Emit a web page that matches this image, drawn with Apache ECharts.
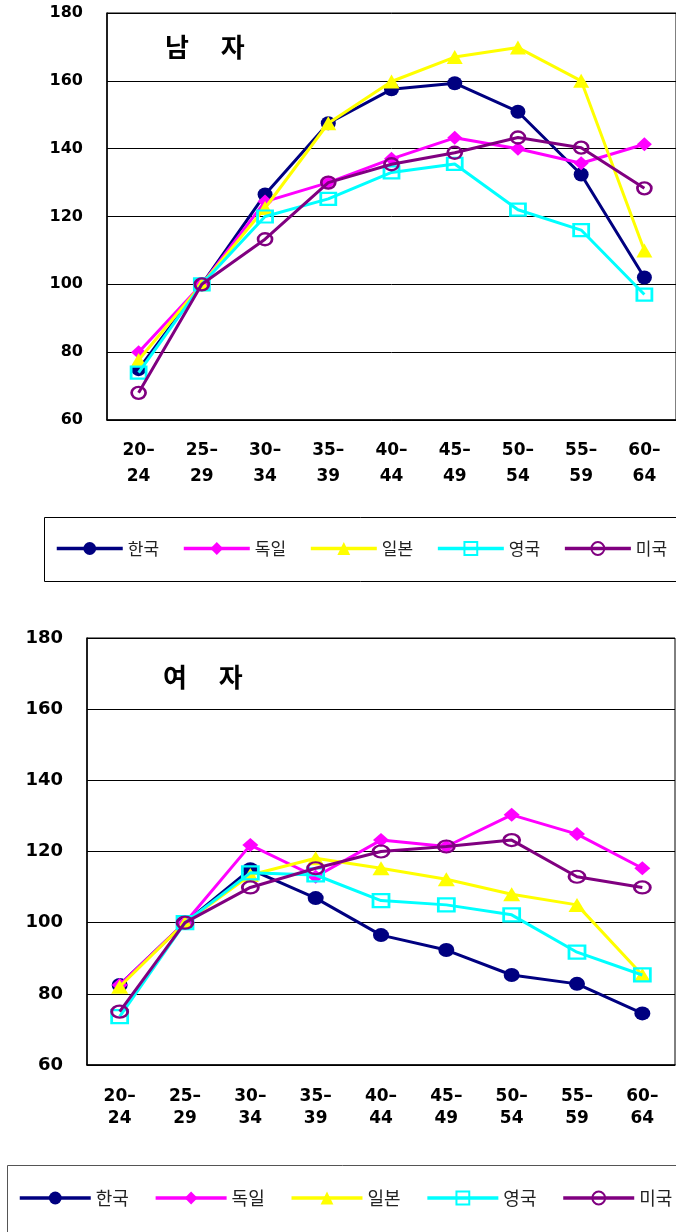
<!DOCTYPE html>
<html><head><meta charset="utf-8">
<script src="https://cdn.jsdelivr.net/npm/echarts@6/dist/echarts.min.js"></script>
<style>html,body{margin:0;padding:0;background:#fff}#c{width:676px;height:1232px}</style>
</head><body><div id="c"></div>
<script>
// ---- data ----
const categories = ['20–\n24','25–\n29','30–\n34','35–\n39','40–\n44','45–\n49','50–\n54','55–\n59','60–\n64'];
const countries = ['한국','독일','일본','영국','미국'];
const panelTitles = ['남　 자', '여　 자'];
const yMin = 60, yMax = 180, yStep = 20;

const maleKorea   = [75, 100, 126.5, 147.5, 157.5, 159.3, 150.9, 132.4, 102];
const maleGermany = [80, 100, 124.4, 130, 137, 143.2, 140, 135.7, 141.3];
const maleJapan   = [77.7, 100, 122.5, 147.5, 159.8, 167, 169.8, 160, 110];
const maleUK      = [74, 100, 120, 125.2, 133, 135.5, 122, 116, 97];
const maleUSA     = [68, 100, 113.3, 130, 135.4, 138.8, 143.3, 140.3, 128.3];

const femaleKorea   = [82.5, 100, 115, 106.9, 96.5, 92.3, 85.3, 82.8, 74.5];
const femaleGermany = [82.5, 100, 121.8, 112.9, 123.2, 121.4, 130.3, 124.9, 115.3];
const femaleJapan   = [82, 100, 113.4, 118.1, 115.3, 112.2, 108, 105, 85.3];
const femaleUK      = [73.6, 100, 114, 113.4, 106.2, 105, 102.2, 91.7, 85.3];
const femaleUSA     = [75, 100, 109.9, 115.3, 120, 121.4, 123.2, 112.9, 109.9];

// ---- styles ----
const looks = [
  {color:'#000080', symbol:'circle',   fill:'#000080', bw:0},
  {color:'#FF00FF', symbol:'diamond',  fill:'#FF00FF', bw:0},
  {color:'#FFFF00', symbol:'triangle', fill:'#FFFF00', bw:0},
  {color:'#00FFFF', symbol:'rect',     fill:'rgba(255,255,255,0)', bw:2.5},
  {color:'#800080', symbol:'circle',   fill:'rgba(255,255,255,0)', bw:2.5}
];
const sizesTop = [[15,14],[15,14],[16,14],[15,12],[14,12]];
const sizesBot = [[16,14],[16,14],[17,14],[16,13],[16,12]];

function mkSeries(data, i, gi, sizes) {
  const L = looks[i];
  return {
    name: countries[i], type:'line', xAxisIndex:gi, yAxisIndex:gi, data:data,
    symbol:L.symbol, symbolSize:sizes[i], showAllSymbol:true,
    lineStyle:{color:L.color, width:3},
    itemStyle:{color:L.fill, borderColor:L.color, borderWidth:L.bw},
    emphasis:{disabled:true}, z: 2 + i
  };
}

const labelFont = 'DejaVu Sans';
function xAxisOf(gi, margin, lh) {
  return {
    gridIndex:gi, type:'category', data:categories, boundaryGap:true,
    axisLine:{lineStyle:{color:'#000', width:1.5}},
    axisTick:{inside:true, length:6, lineStyle:{color:'#000', width:1}},
    axisLabel:{color:'#000', fontSize:17, fontWeight:'bold', fontFamily:labelFont, margin:margin, lineHeight:lh, interval:0}
  };
}
function yAxisOf(gi, fs) {
  return {
    gridIndex:gi, type:'value', min:yMin, max:yMax, interval:yStep,
    axisLine:{show:true, lineStyle:{color:'#000', width:1.5}},
    axisTick:{show:false},
    splitLine:{lineStyle:{color:'#000', width:1}},
    axisLabel:{color:'#000', fontSize:fs, fontWeight:'bold', fontFamily:labelFont, margin:24}
  };
}

const chart = echarts.init(document.getElementById('c'), null, {renderer:'canvas'});
chart.setOption({
  animation:false,
  backgroundColor:'#fff',
  title:[
    {text:panelTitles[0], left:165, top:34, padding:0, textStyle:{fontSize:26, fontWeight:'bold', color:'#000', fontFamily:'Noto Sans CJK KR'}},
    {text:panelTitles[1], left:163, top:664, padding:0, textStyle:{fontSize:26, fontWeight:'bold', color:'#000', fontFamily:'Noto Sans CJK KR'}}
  ],
  grid:[
    {left:107, top:13, width:574, height:407, show:true, borderColor:'#000', borderWidth:1, containLabel:false},
    {left:87, top:638, width:588, height:427, show:true, borderColor:'#000', borderWidth:1, containLabel:false}
  ],
  xAxis:[xAxisOf(0, 18, 26), xAxisOf(1, 21, 22)],
  yAxis:[yAxisOf(0, 16), yAxisOf(1, 18)],
  legend:[
    {data:countries, left:55, top:540, padding:0, itemWidth:66, itemHeight:16, itemGap:23, selectedMode:false,
     lineStyle:{width:3.5}, textStyle:{fontSize:17, color:'#222', fontFamily:'Noto Sans CJK KR'}},
    {data:countries, left:18, top:1189, padding:0, itemWidth:71, itemHeight:16, itemGap:25, selectedMode:false,
     lineStyle:{width:3.5}, textStyle:{fontSize:18, color:'#222', fontFamily:'Noto Sans CJK KR'}}
  ],
  graphic:[
    {type:'rect', shape:{x:44.5, y:517.5, width:700, height:64}, style:{fill:'none', stroke:'#000', lineWidth:1}, silent:true},
    {type:'rect', shape:{x:7.5, y:1165.5, width:700, height:100}, style:{fill:'none', stroke:'#555', lineWidth:1}, silent:true}
  ],
  series:[
    mkSeries(maleKorea,0,0,sizesTop), mkSeries(maleGermany,1,0,sizesTop), mkSeries(maleJapan,2,0,sizesTop),
    mkSeries(maleUK,3,0,sizesTop), mkSeries(maleUSA,4,0,sizesTop),
    mkSeries(femaleKorea,0,1,sizesBot), mkSeries(femaleGermany,1,1,sizesBot), mkSeries(femaleJapan,2,1,sizesBot),
    mkSeries(femaleUK,3,1,sizesBot), mkSeries(femaleUSA,4,1,sizesBot)
  ]
});
</script>
</body></html>
